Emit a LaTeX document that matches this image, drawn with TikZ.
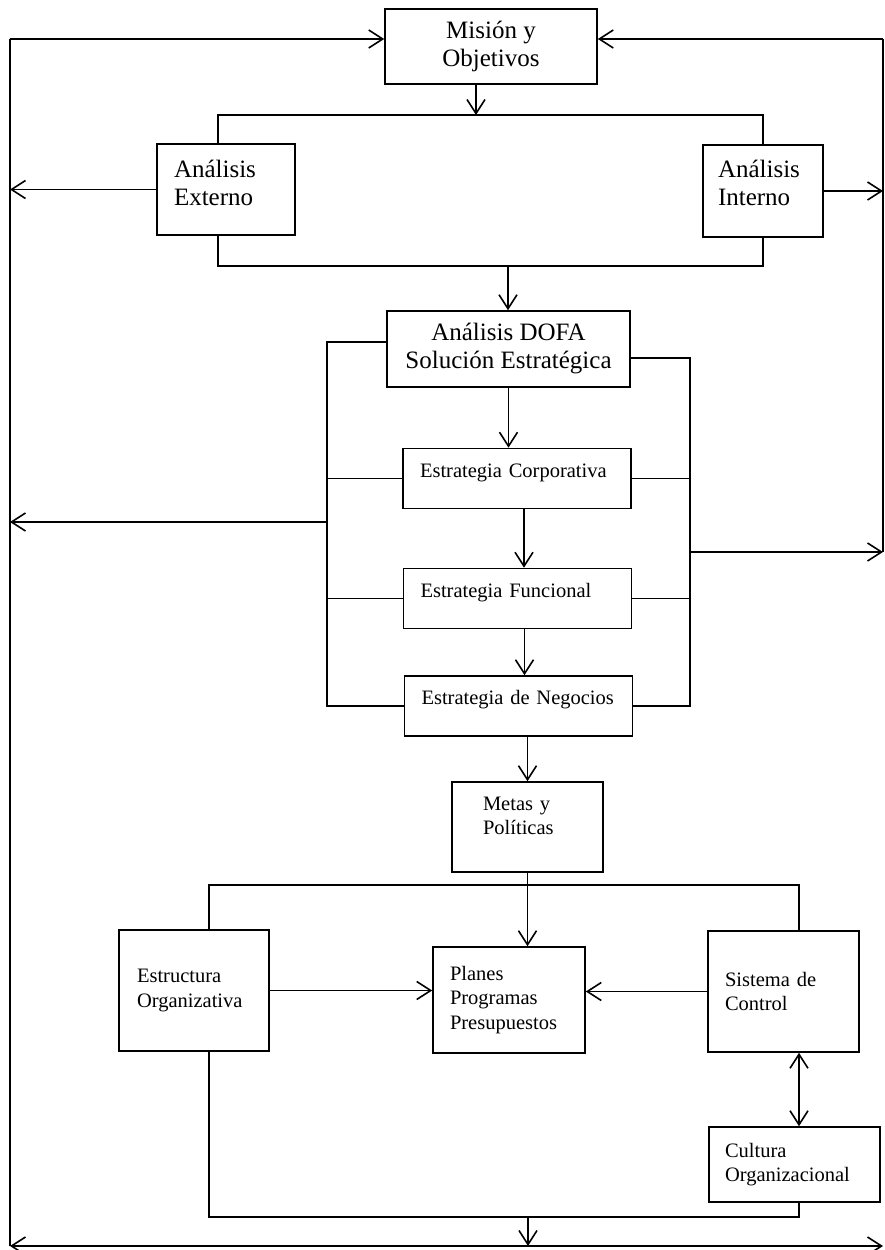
\documentclass[tikz,border=0pt]{standalone}
\usepackage{fontspec}
\setmainfont{Liberation Serif}
\usepackage{tikz}
\usetikzlibrary{arrows.meta}

\begin{document}
\begin{tikzpicture}[x=1pt,y=-1pt,line width=1.6pt,
  arr/.style={-{Straight Barb[length=14pt,width=18pt]}},
  arrs/.style={{Straight Barb[length=14pt,width=18pt]}-{Straight Barb[length=14pt,width=18pt]}},
  box/.style={draw,line width=1.6pt,align=center,inner sep=0pt},
  boxl/.style={draw,line width=1.6pt,align=left,inner xsep=17pt,inner ysep=0pt},
  big/.style={font=\fontsize{25pt}{28pt}\selectfont},
  mid/.style={font=\fontsize{20.5pt}{24.5pt}\selectfont},
  strat/.style={boxl,mid,text width=194pt,minimum height=60pt,text height=15pt,text depth=18pt}]
\useasboundingbox (0,0) rectangle (885,1250);
% cajas
\node[box,big,minimum width=212pt,minimum height=75pt] (mision) at (491,46.5) {Misión y\\Objetivos};
\node[boxl,big,text width=104pt,minimum height=91pt,text height=18pt,text depth=43pt] (externo) at (226,189.5) {Análisis\\Externo};
\node[boxl,big,inner xsep=15pt,text width=90pt,minimum height=92pt,text height=18pt,text depth=46pt] (interno) at (763,191) {Análisis\\Interno};
\node[box,big,minimum width=243pt,minimum height=76pt] (dofa) at (508.5,349) {Análisis DOFA\\Solución Estratégica};
\node[strat] (corp) at (517,478.5) {Estrategia Corporativa};
\node[strat] (func) at (517.5,598.5) {Estrategia Funcional};
\node[strat] (neg) at (518.5,706) {Estrategia de Negocios};
\node[boxl,mid,inner xsep=31pt,text width=89pt,minimum height=90pt,text height=15pt,text depth=49pt] (metas) at (527.5,827) {Metas y\\Políticas};
\node[boxl,mid,inner xsep=18pt,text width=114pt,minimum height=121pt] (estruct) at (194,990.5) {Estructura\\Organizativa};
\node[boxl,mid,text width=118pt,minimum height=106pt] (planes) at (509,1000) {Planes\\Programas\\Presupuestos};
\node[boxl,mid,text width=117pt,minimum height=121pt] (sistema) at (783.5,991.5) {Sistema de\\Control};
\node[boxl,mid,inner xsep=16pt,text width=139pt,minimum height=75pt] (cultura) at (794.5,1164.5) {Cultura\\Organizacional};
% puntos de paso
\coordinate (tl) at (10,39);
\coordinate (tr) at (883,39);
\coordinate (bl) at (10,1246);
\coordinate (br) at (883,1246);
\coordinate (lv) at (327,522);
\coordinate (rv) at (690,552);
\coordinate (b1) at (476,115);
\coordinate (b2) at (508,266);
\coordinate (b4) at (528,1217);
% lazos exteriores
\draw (bl) -- (tl);
\draw[arr] (tl) -- (tl -| mision.west);
\draw (rv -| tr) -- (tr);
\draw[arr] (tr) -- (tr -| mision.east);
% analisis
\draw[arr] (b1 |- mision.south) -- (b1);
\draw ([xshift=-8pt]externo.north) |- (b1) -| (interno.north);
\draw ([xshift=-8pt]externo.south) |- (b2) -| (interno.south);
\draw[arr] (b2) -- (b2 |- dofa.north);
\draw[arr] (externo.west) -- (externo.west -| tl);
\draw[arr] (interno.east) -- (interno.east -| tr);
% estrategias
\draw[arr] (dofa.south) -- (dofa.south |- corp.north);
\draw[arr] ([xshift=7pt]corp.south) -- ([xshift=7pt]corp.south |- func.north);
\draw[arr] ([xshift=7pt]func.south) -- ([xshift=7pt]func.south |- neg.north);
\draw[arr] (metas.north |- neg.south) -- (metas.north);
\draw ([yshift=7pt]dofa.west) -| (lv) |- (neg.west);
\draw (corp.west) -- (corp.west -| lv);
\draw (func.west) -- (func.west -| lv);
\draw[arr] (lv) -- (lv -| tl);
\draw ([yshift=-9pt]dofa.east) -| (rv) |- (neg.east);
\draw (corp.east) -- (corp.east -| rv);
\draw (func.east) -- (func.east -| rv);
\draw[arr] (rv) -- (rv -| tr);
% implementacion
\draw[arr] (metas.south) -- (metas.south |- planes.north);
\draw ([xshift=15pt]estruct.north) -- ++(0,-44) -| ([xshift=15.5pt]sistema.north);
\draw[arr] (estruct.east) -- (estruct.east -| planes.west);
\draw[arr] (sistema.west) -- (sistema.west -| planes.east);
\draw[arrs] ([xshift=15.5pt]sistema.south) -- ([xshift=15.5pt]sistema.south |- cultura.north);
\draw ([xshift=15pt]estruct.south) |- (b4) -| ([xshift=4.5pt]cultura.south);
\draw[arr] (b4) -- (b4 |- bl);
\draw[arr] (b4 |- bl) -- (bl);
\draw[arr] (b4 |- bl) -- (br);
\end{tikzpicture}
\end{document}
